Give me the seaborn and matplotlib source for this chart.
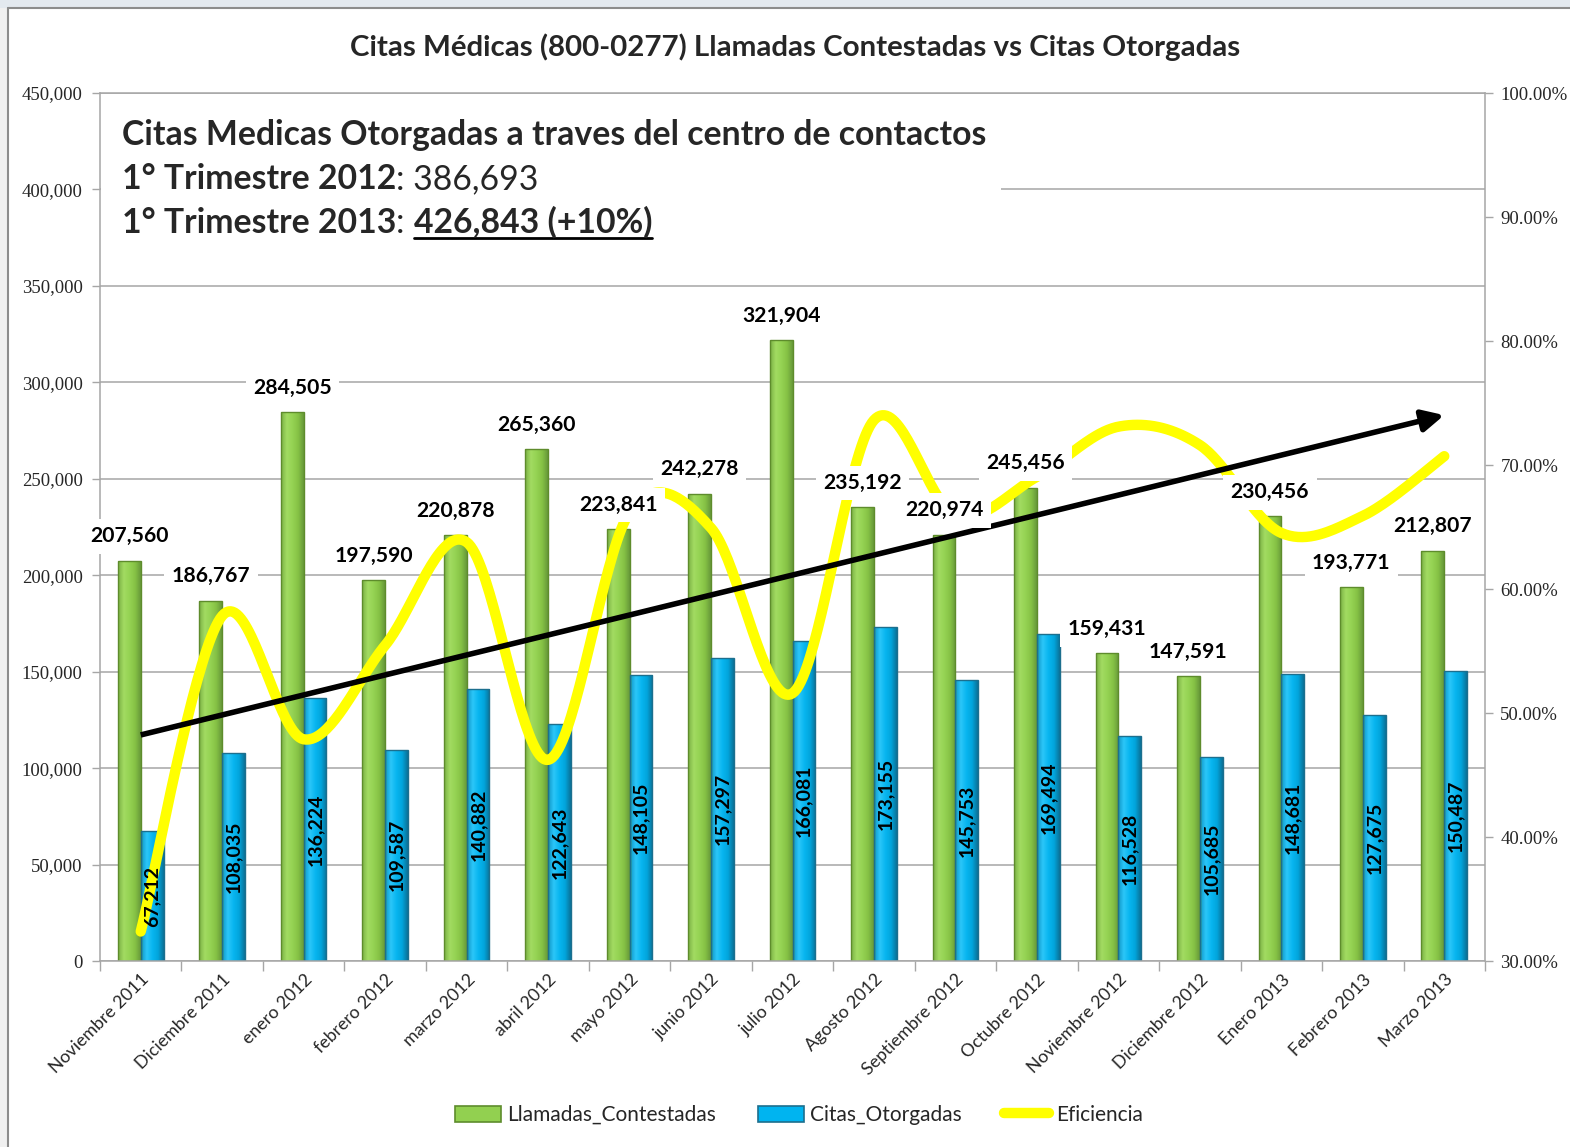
import numpy as np
import pandas as pd
import matplotlib
matplotlib.use("Agg")
import matplotlib.pyplot as plt
import seaborn as sns
from matplotlib.patches import Rectangle, Patch
from matplotlib.lines import Line2D
from matplotlib.ticker import FuncFormatter
from matplotlib.colors import to_rgb
from matplotlib.transforms import ScaledTranslation

# ---------------- data ----------------
meses = ["Noviembre 2011", "Diciembre 2011", "enero 2012", "febrero 2012", "marzo 2012",
         "abril 2012", "mayo 2012", "junio 2012", "julio 2012", "Agosto 2012",
         "Septiembre 2012", "Octubre 2012", "Noviembre 2012", "Diciembre 2012",
         "Enero 2013", "Febrero 2013", "Marzo 2013"]
llamadas = [207560, 186767, 284505, 197590, 220878, 265360, 223841, 242278, 321904,
            235192, 220974, 245456, 159431, 147591, 230456, 193771, 212807]
citas = [67212, 108035, 136224, 109587, 140882, 122643, 148105, 157297, 166081,
         173155, 145753, 169494, 116528, 105685, 148681, 127675, 150487]
eficiencia = [32.38, 57.84, 47.88, 55.46, 63.78, 46.22, 66.17, 64.92, 51.59,
              73.62, 65.96, 69.05, 73.09, 71.61, 64.52, 65.89, 70.71]

titulo = "Citas Médicas (800-0277) Llamadas Contestadas vs Citas Otorgadas"
caja_l1 = "Citas Medicas Otorgadas a traves del centro de contactos"
caja_l2 = ("1° Trimestre 2012", ": 386,693")
caja_l3 = ("1° Trimestre 2013", ": ", "426,843 (+10%)")
serie_a = "Llamadas_Contestadas"
serie_b = "Citas_Otorgadas"
serie_c = "Eficiencia"
# trend arrow (start / end in data units)
flecha_ini = (0.0, 117200)
flecha_fin = (16.0, 283000)

# ---------------- style ----------------
sns.set_theme(style="white")
plt.rcParams["font.family"] = ["Lato", "DejaVu Sans"]
W, H = 1570, 1147
fig = plt.figure(figsize=(W / 100, H / 100), dpi=100)
fig.patch.set_facecolor("white")

GREEN, GREEN_E = "#92D050", "#5E8C2C"
BLUE, BLUE_E = "#00B4F0", "#1C6F8E"
GREEN_GRAD = ["#7AB044", "#A2DB62", "#95D353", "#86C245", "#67993A"]
BLUE_GRAD = ["#0E95C6", "#2CC6F8", "#08B6F0", "#02A5DC", "#0B7298"]
YELLOW = "#FFFF00"
GRID = "#A6A6A6"

# outer chart frame like the screenshot
fig.add_artist(Rectangle((0, 0), 8 / W, 1, transform=fig.transFigure, fc="#F0F0F0", ec="none", zorder=-5))
fig.add_artist(Rectangle((0, 1 - 8 / H), 1, 8 / H, transform=fig.transFigure, fc="#E3E9EF", ec="none", zorder=-5))
fig.add_artist(Line2D([8 / W, 8 / W], [0, 1 - 8 / H], transform=fig.transFigure, color="#8C8C8C", lw=1.5))
fig.add_artist(Line2D([8 / W, 1], [1 - 8 / H, 1 - 8 / H], transform=fig.transFigure, color="#8C8C8C", lw=1.5))

ax = fig.add_axes([100 / W, 1 - 961 / H, 1385 / W, 868 / H])

df = pd.DataFrame({
    "mes": meses * 2,
    "serie": [serie_a] * len(meses) + [serie_b] * len(meses),
    "valor": llamadas + citas,
})
sns.barplot(data=df, x="mes", y="valor", hue="serie", hue_order=[serie_a, serie_b],
            order=meses, palette={serie_a: GREEN, serie_b: BLUE}, width=0.56,
            saturation=1, errorbar=None, legend=False, ax=ax, zorder=2)


def grad_img(cols, n=60):
    c = np.array([to_rgb(x) for x in cols])
    pos = np.linspace(0, 1, len(cols))
    xs = np.linspace(0, 1, n)
    g = np.stack([np.interp(xs, pos, c[:, k]) for k in range(3)], axis=-1)
    return g[np.newaxis, :, :]


for cont, ec, gcols in zip(ax.containers, [GREEN_E, BLUE_E], [GREEN_GRAD, BLUE_GRAD]):
    img = grad_img(gcols)
    for p in cont:
        x0, y0, w, h = p.get_x(), p.get_y(), p.get_width(), p.get_height()
        im = ax.imshow(img, extent=[x0, x0 + w, y0, y0 + h], aspect="auto",
                       interpolation="bilinear", zorder=2.1)
        im.set_clip_path(p)
        p.set_facecolor("none")
        p.set_edgecolor(ec)
        p.set_linewidth(1.0)
        p.set_zorder(2.2)

ax.set_xlim(-0.5, len(meses) - 0.5)
ax.set_ylim(0, 450000)
ax.set_aspect("auto")
ax.set_yticks(np.arange(0, 450001, 50000))
ax.yaxis.set_major_formatter(FuncFormatter(lambda v, p: f"{int(v):,}"))
ax.set_xlabel("")
ax.set_ylabel("")
ax.yaxis.grid(True, color=GRID, lw=1.1)
ax.set_axisbelow(True)
for s in ["left", "bottom", "top", "right"]:
    ax.spines[s].set_color(GRID)
    ax.spines[s].set_linewidth(1.1)
ax.tick_params(axis="y", which="major", length=6, width=1, color=GRID, direction="out", pad=6.5,
               labelsize=13.5, left=True)
for lab in ax.get_yticklabels():
    lab.set_fontfamily("Liberation Serif")
ax.set_xticks(np.arange(-0.5, len(meses), 1), minor=True)
ax.tick_params(axis="x", which="minor", length=7, width=1, color=GRID, direction="out", bottom=True)
ax.tick_params(axis="x", which="major", length=0, pad=13, labelsize=12.8)
ax.set_xticks(range(len(meses)))
ax.set_xticklabels(meses, rotation=45, ha="right", va="center", rotation_mode="anchor")
shift = ScaledTranslation(6 / 100, 2 / 100, fig.dpi_scale_trans)
for lab in ax.get_xticklabels():
    lab.set_transform(lab.get_transform() + shift)

# white text-box background (hides grid behind the annotation)
ax.add_patch(Rectangle((101 / W, 1 - 250 / H), 900 / W, 155 / H, transform=fig.transFigure,
                       fc="white", ec="none", zorder=1, clip_on=False))

# ---------------- secondary axis: efficiency ----------------
ax2 = ax.twinx()
ax2.set_ylim(30, 100)
ax2.set_yticks(np.arange(30, 100.1, 10))
ax2.yaxis.set_major_formatter(FuncFormatter(lambda v, p: f"{v:.2f}%"))
ax2.tick_params(axis="y", length=6, width=1, color=GRID, direction="out", pad=5, labelsize=13.5)
for lab in ax2.get_yticklabels():
    lab.set_fontfamily("Liberation Serif")
for s in ["left", "bottom", "top", "right"]:
    ax2.spines[s].set_visible(False)
ax2.grid(False)


def smooth_curve(xv, yv, n=40):
    """Excel-like smoothed line (cubic Bezier / Catmull-Rom through the points)."""
    P = np.column_stack([xv, yv]).astype(float)
    Pe = np.vstack([P[0], P, P[-1]])
    t = np.linspace(0, 1, n)[:, None]
    out = []
    for i in range(1, len(Pe) - 2):
        b0 = Pe[i]
        b3 = Pe[i + 1]
        b1 = b0 + (Pe[i + 1] - Pe[i - 1]) / 6
        b2 = b3 - (Pe[i + 2] - Pe[i]) / 6
        seg = ((1 - t) ** 3) * b0 + 3 * ((1 - t) ** 2) * t * b1 + 3 * (1 - t) * t ** 2 * b2 + t ** 3 * b3
        out.append(seg if i == 1 else seg[1:])
    out = np.vstack(out)
    return out[:, 0], out[:, 1]


sx, sy = smooth_curve(np.arange(len(meses)), eficiencia)
ax2.plot(sx, sy, color=YELLOW, lw=7.5, solid_capstyle="round", zorder=2)

# trend arrow
ax2.annotate("", xy=flecha_fin, xycoords=ax.transData, xytext=flecha_ini, textcoords=ax.transData,
             arrowprops=dict(arrowstyle="-|>,head_length=1.0,head_width=0.5", color="black", lw=4,
                             mutation_scale=13, shrinkA=0, shrinkB=0, capstyle="butt"),
             zorder=3)

# value labels
for i, v in enumerate(llamadas):
    ax2.annotate(f"{v:,}", xy=(i - 0.14, v), xycoords=ax.transData, xytext=(0, 17.5),
                 textcoords="offset points", ha="center", va="center", fontsize=15.2,
                 fontweight="bold", color="black", zorder=4,
                 bbox=dict(boxstyle="square,pad=0.35", fc="white", ec="none"))
for i, v in enumerate(citas):
    ax2.text(i + 0.14, v / 2, f"{v:,}", transform=ax.transData, rotation=90, ha="center",
             va="center", fontsize=14, fontweight="bold", color="black", zorder=4)

# ---------------- texts ----------------
fig.canvas.draw()
r = fig.canvas.get_renderer()


def fit(t, target_w):
    w = t.get_window_extent(renderer=r).width
    t.set_fontsize(t.get_fontsize() * target_w / w)


tt = fig.text(795 / W, 1 - 47 / H, titulo, ha="center", va="center", fontsize=20, fontweight="bold")
fit(tt, 891)

l1 = fig.text(122 / W, 1 - 145 / H, caja_l1, ha="left", va="baseline", fontsize=22, fontweight="bold")
fit(l1, 860)
fs = l1.get_fontsize()


def seq(x_px, y_base_px, parts):
    x = x_px
    bbs = []
    for s, wgt in parts:
        t = fig.text(x / W, 1 - y_base_px / H, s, ha="left", va="baseline", fontsize=fs, fontweight=wgt)
        bb = t.get_window_extent(renderer=r)
        bbs.append(bb)
        x = bb.x1
    return bbs


seq(122, 189, [(caja_l2[0], "bold"), (caja_l2[1], "normal")])
bbs = seq(122, 233, [(caja_l3[0], "bold"), (caja_l3[1], "normal"), (caja_l3[2], "bold")])
ub = bbs[2]
fig.add_artist(Line2D([ub.x0 / W, ub.x1 / W], [1 - 238 / H, 1 - 238 / H], transform=fig.transFigure,
                      color="black", lw=2))

# legend
handles = [Patch(fc=GREEN, ec=GREEN_E, lw=1.2, label=serie_a),
           Patch(fc=BLUE, ec=BLUE_E, lw=1.2, label=serie_b),
           Line2D([0], [0], color=YELLOW, lw=7.5, solid_capstyle="round", label=serie_c)]
fig.legend(handles=handles, loc="center", bbox_to_anchor=(799 / W, 1 - 1115 / H), ncol=3,
           frameon=False, fontsize=15, handlelength=2.2, handleheight=0.8, handletextpad=0.3,
           columnspacing=2.0)

fig.savefig("out.png", dpi=100)
